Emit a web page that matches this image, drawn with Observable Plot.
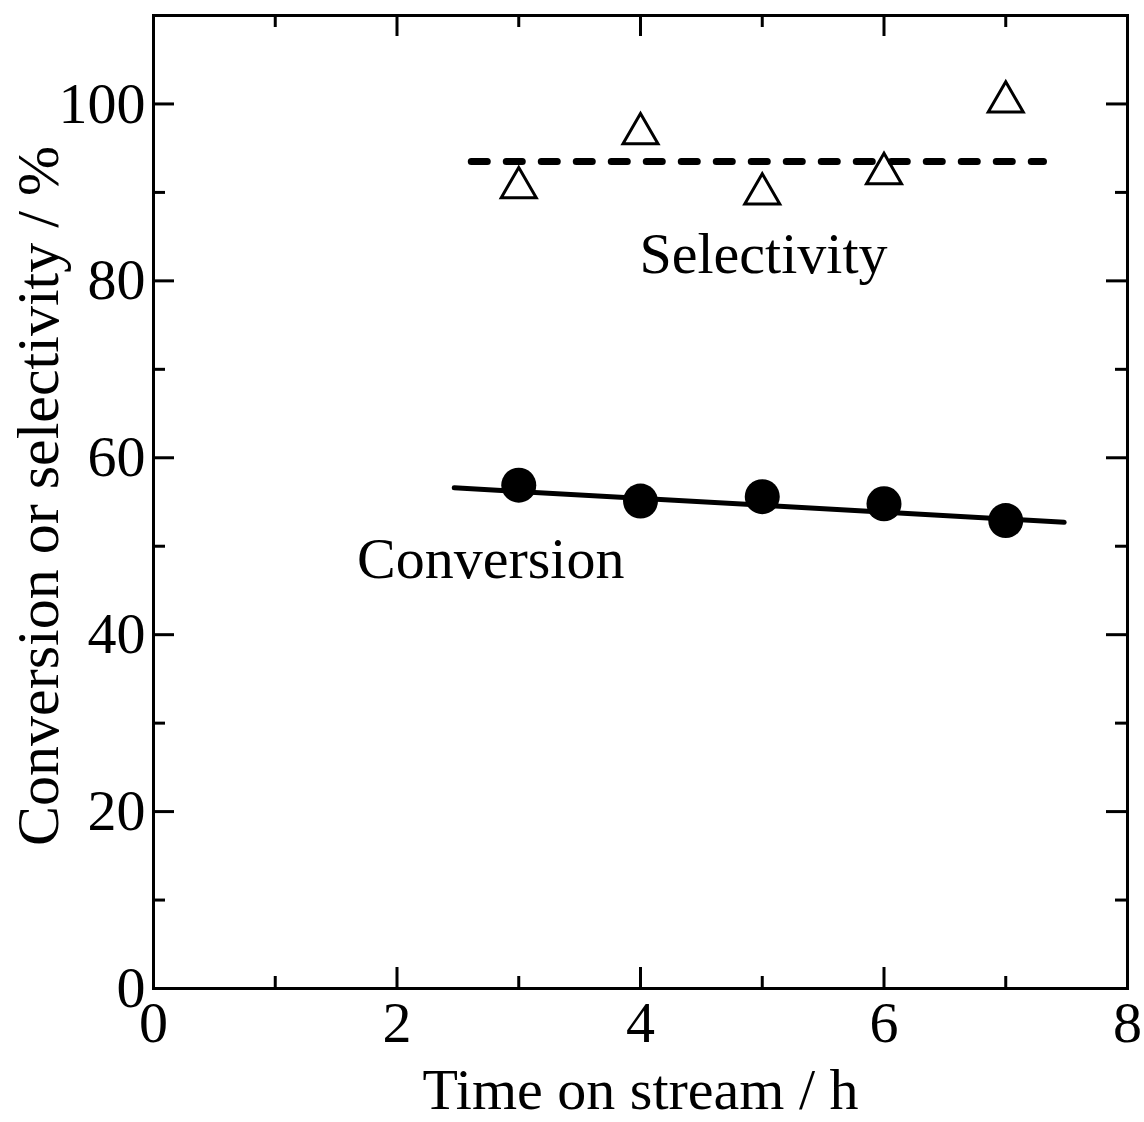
<!DOCTYPE html>
<html><head><meta charset="utf-8">
<script src="https://cdn.jsdelivr.net/npm/d3@7"></script>
<script src="https://cdn.jsdelivr.net/npm/@observablehq/plot@0.6"></script>
<style>body{margin:0;background:#fff}</style>
</head><body><div id="chart"></div>
<script>
// Data
const times = [3, 4, 5, 6, 7];
const conversion = [56.9, 55.1, 55.6, 54.8, 52.9];
const selectivity = [91.1, 97.2, 90.4, 92.7, 100.8];
const convFitX = [2.47, 7.48];
const convFitY = [56.6, 52.7];
const selAvgX = [2.61, 7.31];
const selAvgY = [93.5, 93.5];
const xMajor = [0, 2, 4, 6, 8];
const xMinor = [1, 3, 5, 7];
const yMajor = [0, 20, 40, 60, 80, 100];
const yMinor = [10, 30, 50, 70, 90];
const seriesLabels = ["Selectivity", "Conversion"];
const seriesLabelX = [5.01, 2.77];
const seriesLabelY = [83.0, 48.5];
const xTitle = "Time on stream / h";
const yTitle = "Conversion or selectivity / %";

const convPts = times.map((t, i) => ({x: t, y: conversion[i]}));
const selPts = times.map((t, i) => ({x: t, y: selectivity[i]}));
const convFit = convFitX.map((x, i) => ({x, y: convFitY[i]}));
const selAvg = selAvgX.map((x, i) => ({x, y: selAvgY[i]}));
const labelData = seriesLabels.map((t, i) => ({text: t, x: seriesLabelX[i], y: seriesLabelY[i]}));

const W = 1144, H = 1122, ML = 153, MR = 17, MT = 15, MB = 134;
const PW = W - ML - MR, PH = H - MT - MB;
const majorLen = 21, minorLen = 12;
const FS = 58;

const chart = Plot.plot({
  width: W, height: H,
  marginLeft: ML, marginRight: MR, marginTop: MT, marginBottom: MB,
  style: {fontFamily: "'Liberation Serif', 'Times New Roman', serif", fontSize: FS + "px", color: "black", background: "white"},
  x: {domain: [0, 8]},
  y: {domain: [0, 110]},
  marks: [
    Plot.axisY(yMajor, {tickSize: 0, tickPadding: 8, fontSize: FS, label: null, tickFormat: d => String(d)}),
    Plot.axisX(xMajor, {tickSize: 0, tickPadding: 12, fontSize: FS, label: null, tickFormat: d => String(d)}),
    // inward ticks on all four sides
    Plot.tickY(yMajor, {y: d => d, insetRight: PW - majorLen, strokeWidth: 3, stroke: "black"}),
    Plot.tickY(yMajor, {y: d => d, insetLeft: PW - majorLen, strokeWidth: 3, stroke: "black"}),
    Plot.tickY(yMinor, {y: d => d, insetRight: PW - minorLen, strokeWidth: 3, stroke: "black"}),
    Plot.tickY(yMinor, {y: d => d, insetLeft: PW - minorLen, strokeWidth: 3, stroke: "black"}),
    Plot.tickX(xMajor, {x: d => d, insetTop: PH - majorLen, strokeWidth: 3, stroke: "black"}),
    Plot.tickX(xMajor, {x: d => d, insetBottom: PH - majorLen, strokeWidth: 3, stroke: "black"}),
    Plot.tickX(xMinor, {x: d => d, insetTop: PH - minorLen, strokeWidth: 3, stroke: "black"}),
    Plot.tickX(xMinor, {x: d => d, insetBottom: PH - minorLen, strokeWidth: 3, stroke: "black"}),
    Plot.frame({stroke: "black", strokeWidth: 3}),
    Plot.line(convFit, {x: "x", y: "y", stroke: "black", strokeWidth: 5, strokeLinecap: "round"}),
    Plot.line(selAvg, {x: "x", y: "y", stroke: "black", strokeWidth: 7, strokeDasharray: "16,19", strokeLinecap: "round"}),
    Plot.dot(convPts, {x: "x", y: "y", r: 17.5, fill: "black", stroke: "none"}),
    Plot.dot(selPts, {x: "x", y: "y", r: 13, symbol: "triangle", fill: "none", stroke: "black", strokeWidth: 3, dy: 5}),
    Plot.text(labelData, {x: "x", y: "y", text: "text", fontSize: FS, fill: "black"}),
    Plot.text([xTitle], {frameAnchor: "bottom", dy: 120, fontSize: FS, fill: "black"}),
    Plot.text([yTitle], {frameAnchor: "left", textAnchor: "middle", rotate: -90, dx: -115, dy: -6, fontSize: 60, fill: "black"})
  ]
});
document.getElementById("chart").appendChild(chart);
</script>
</body></html>
